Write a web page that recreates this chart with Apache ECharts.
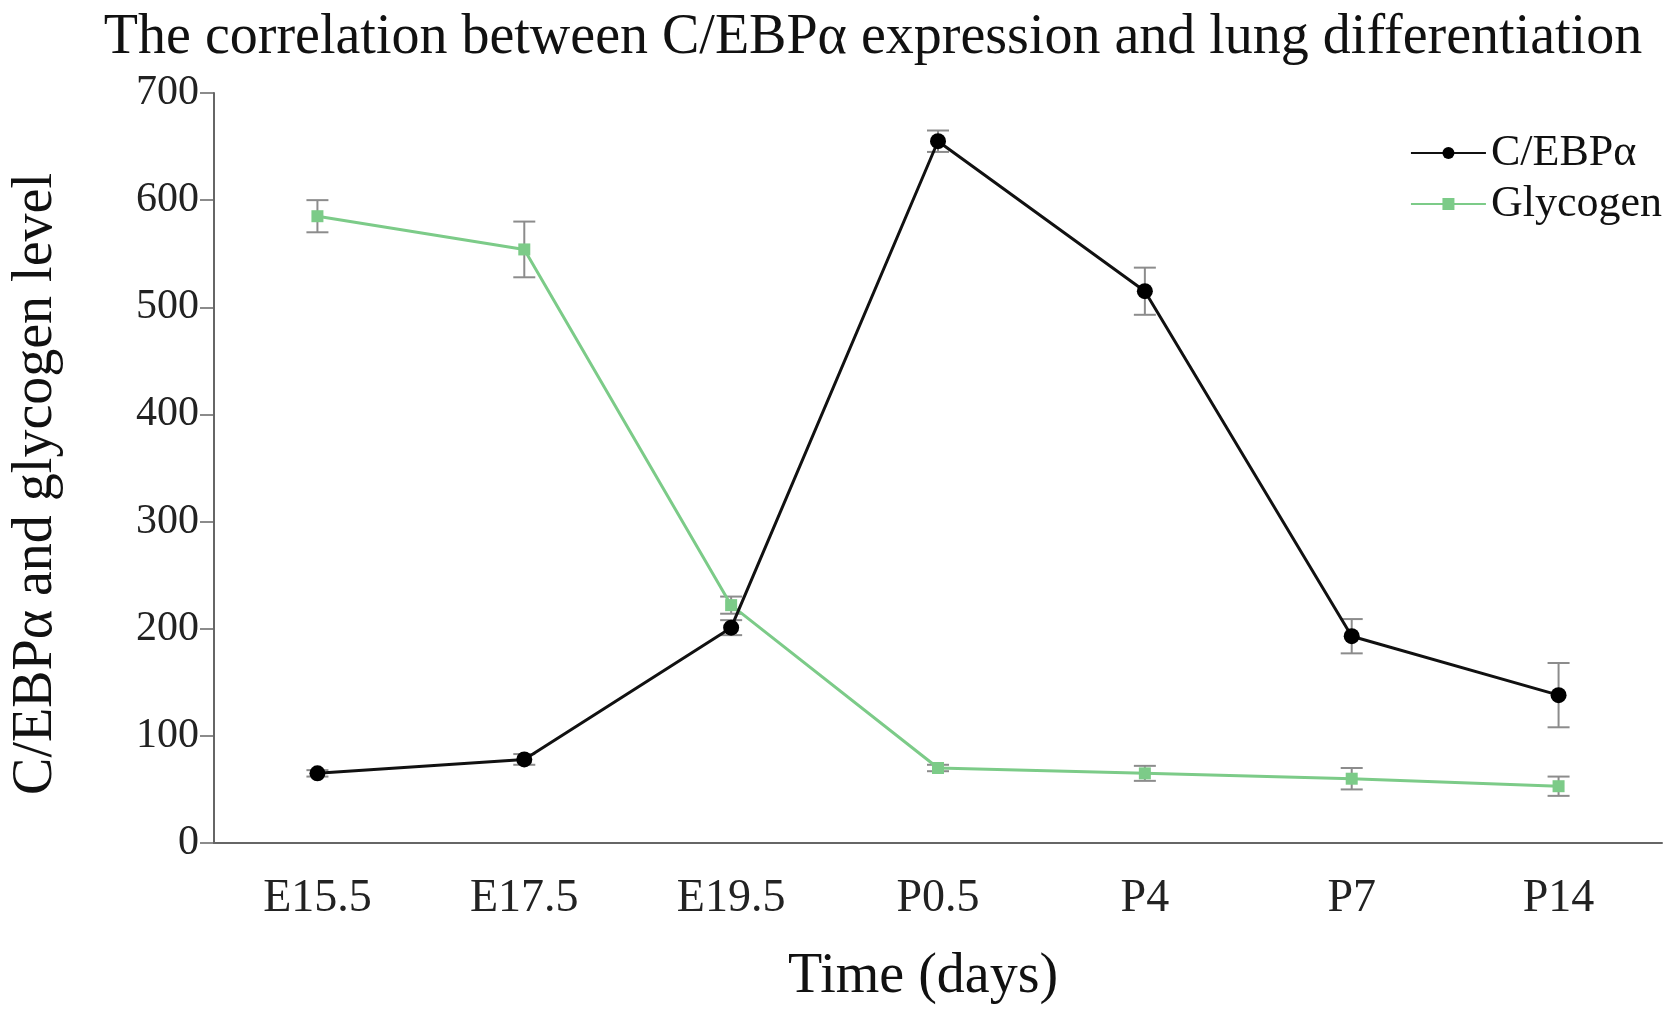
<!DOCTYPE html>
<html><head><meta charset="utf-8">
<script src="https://cdn.jsdelivr.net/npm/echarts@6/dist/echarts.min.js"></script>
<style>html,body{margin:0;padding:0;background:#fff}#c{width:1677px;height:1015px}</style>
</head><body><div id="c"></div>
<script>
const categories = ['E15.5','E17.5','E19.5','P0.5','P4','P7','P14'];
const cebpa = [65, 78, 201, 655, 515, 193, 138];
const cebpaErr = [3, 5, 7, 10, 22, 16, 30];
const glycogen = [585, 554, 222, 70, 65, 60, 53];
const glycogenErr = [15, 26, 8, 3, 7, 10, 9];
const yTicks = [0, 100, 200, 300, 400, 500, 600, 700];

const FONT = 'Liberation Serif';
const chart = echarts.init(document.getElementById('c'));

function errSeries(name, vals, errs) {
  return {
    type: 'custom', name: name + ' err', silent: true, z: 1,
    data: vals.map((v, i) => [i, v - errs[i], v + errs[i]]),
    renderItem: function (params, api) {
      const x = api.value(0);
      const lo = api.coord([x, api.value(1)]);
      const hi = api.coord([x, api.value(2)]);
      const w = 11;
      const st = { stroke: '#8c8c8c', lineWidth: 2 };
      return { type: 'group', children: [
        { type: 'line', shape: { x1: lo[0], y1: lo[1], x2: hi[0], y2: hi[1] }, style: st },
        { type: 'line', shape: { x1: lo[0]-w, y1: lo[1], x2: lo[0]+w, y2: lo[1] }, style: st },
        { type: 'line', shape: { x1: hi[0]-w, y1: hi[1], x2: hi[0]+w, y2: hi[1] }, style: st }
      ]};
    }
  };
}

chart.setOption({
  animation: false,
  backgroundColor: '#fff',
  title: {
    text: 'The correlation between C/EBPα expression and lung differentiation',
    left: 868, top: 5, textAlign: 'center',
    textStyle: { fontFamily: FONT, fontWeight: 'normal', fontSize: 56, color: '#111' }
  },
  legend: {
    right: 10, top: 126, orient: 'vertical', itemWidth: 75, itemHeight: 15, itemGap: 7,
    textStyle: { fontFamily: FONT, fontSize: 44, color: '#111' },
    data: ['C/EBPα', 'Glycogen']
  },
  grid: { left: 200, right: 15, top: 93, bottom: 172 },
  xAxis: {
    type: 'category', data: categories,
    name: 'Time (days)', nameLocation: 'middle', nameGap: 106,
    nameTextStyle: { fontFamily: FONT, fontSize: 56, color: '#111', padding: [0, 30, 0, 0] },
    axisLine: { lineStyle: { color: '#666', width: 2 } },
    axisTick: { length: 14, lineStyle: { color: '#666', width: 1.5 } },
    axisLabel: { fontFamily: FONT, fontSize: 46, color: '#222', margin: 33 },
    splitLine: { show: false }
  },
  yAxis: {
    type: 'value', min: yTicks[0], max: yTicks[yTicks.length-1], interval: 100,
    name: 'C/EBPα and glycogen level', nameLocation: 'middle', nameGap: 150,
    nameTextStyle: { fontFamily: FONT, fontSize: 56, color: '#111', padding: [0, 32, 0, 0] },
    axisLine: { show: true, lineStyle: { color: '#666', width: 2 } },
    axisTick: { show: true, length: 14, lineStyle: { color: '#666', width: 1.5 } },
    axisLabel: { fontFamily: FONT, fontSize: 42, color: '#222', margin: 15 },
    splitLine: { show: false }
  },
  series: [
    errSeries('C/EBPα', cebpa, cebpaErr),
    errSeries('Glycogen', glycogen, glycogenErr),
    {
      name: 'Glycogen', type: 'line', data: glycogen, z: 2,
      symbol: 'rect', symbolSize: 12,
      lineStyle: { color: '#7ccb88', width: 3 },
      itemStyle: { color: '#7ccb88' }
    },
    {
      name: 'C/EBPα', type: 'line', data: cebpa, z: 3,
      symbol: 'circle', symbolSize: 16,
      lineStyle: { color: '#111', width: 3 },
      itemStyle: { color: '#000' }
    }
  ]
});
</script></body></html>
